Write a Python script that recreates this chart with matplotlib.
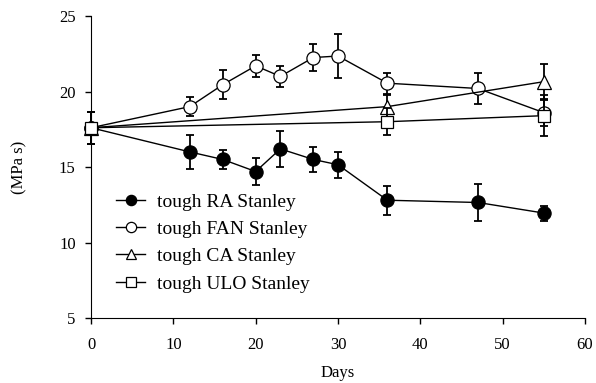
import matplotlib
matplotlib.use("Agg")
import matplotlib.pyplot as plt

plt.rcParams["font.family"] = ["Liberation Serif", "DejaVu Serif"]

# tough RA Stanley
ra_days = [0, 12, 16, 20, 23, 27, 30, 36, 47, 55]
ra_vals = [17.6, 16.0, 15.5, 14.7, 16.2, 15.5, 15.15, 12.8, 12.65, 11.95]
ra_err = [1.05, 1.1, 0.65, 0.9, 1.2, 0.8, 0.85, 0.95, 1.25, 0.5]

# tough FAN Stanley
fan_days = [0, 12, 16, 20, 23, 27, 30, 36, 47, 55]
fan_vals = [17.6, 19.0, 20.45, 21.7, 21.0, 22.25, 22.35, 20.55, 20.2, 18.6]
fan_err = [1.05, 0.65, 0.95, 0.75, 0.7, 0.9, 1.45, 0.7, 1.0, 0.9]

# tough CA Stanley
ca_days = [0, 36, 55]
ca_vals = [17.6, 19.0, 20.65]
ca_err = [1.05, 0.8, 1.2]

# tough ULO Stanley
ulo_days = [0, 36, 55]
ulo_vals = [17.6, 18.0, 18.4]
ulo_err = [1.05, 0.9, 1.35]

series = [
    ("tough RA Stanley", ra_days, ra_vals, ra_err, "o", "black", 9.5),
    ("tough FAN Stanley", fan_days, fan_vals, fan_err, "o", "white", 9.5),
    ("tough CA Stanley", ca_days, ca_vals, ca_err, "^", "white", 10),
    ("tough ULO Stanley", ulo_days, ulo_vals, ulo_err, "s", "white", 9),
]

fig = plt.figure(figsize=(5.96, 3.83), dpi=100)
ax = fig.add_axes([0.1527, 0.1697, 0.8288, 0.7885])

for i, (label, x, y, e, m, fc, ms) in enumerate(series):
    eb = ax.errorbar(x, y, yerr=e, fmt="none", ecolor="black", elinewidth=1.3,
                     capsize=3, capthick=1.3, zorder=2 * i + 1)
    for art in eb.lines[1] + eb.lines[2]:
        art.set_clip_on(False)
    ax.plot(x, y, marker=m, color="black", mfc=fc, mec="black", mew=0.9,
            ms=ms, lw=1.0, label=label, zorder=2 * i + 2, clip_on=False)

ax.set_xlim(0, 60)
ax.set_ylim(5, 25)
ax.set_xticks(range(0, 61, 10))
ax.set_yticks(range(5, 26, 5))
ax.spines["top"].set_visible(False)
ax.spines["right"].set_visible(False)
ax.tick_params(direction="out", length=4, width=1, labelsize=12)
ax.tick_params(axis="x", pad=10)
ax.tick_params(axis="y", pad=7)
ax.set_xlabel("Days", fontsize=12, labelpad=8)
ax.set_ylabel("(MPa s)", fontsize=12, labelpad=23)

ax.legend(loc="upper left", bbox_to_anchor=(0.035, 0.44), frameon=False,
          fontsize=14, handlelength=1.5, handletextpad=0.6,
          labelspacing=0.5, borderaxespad=0, markerscale=0.78)

fig.savefig("out.png", dpi=100)
